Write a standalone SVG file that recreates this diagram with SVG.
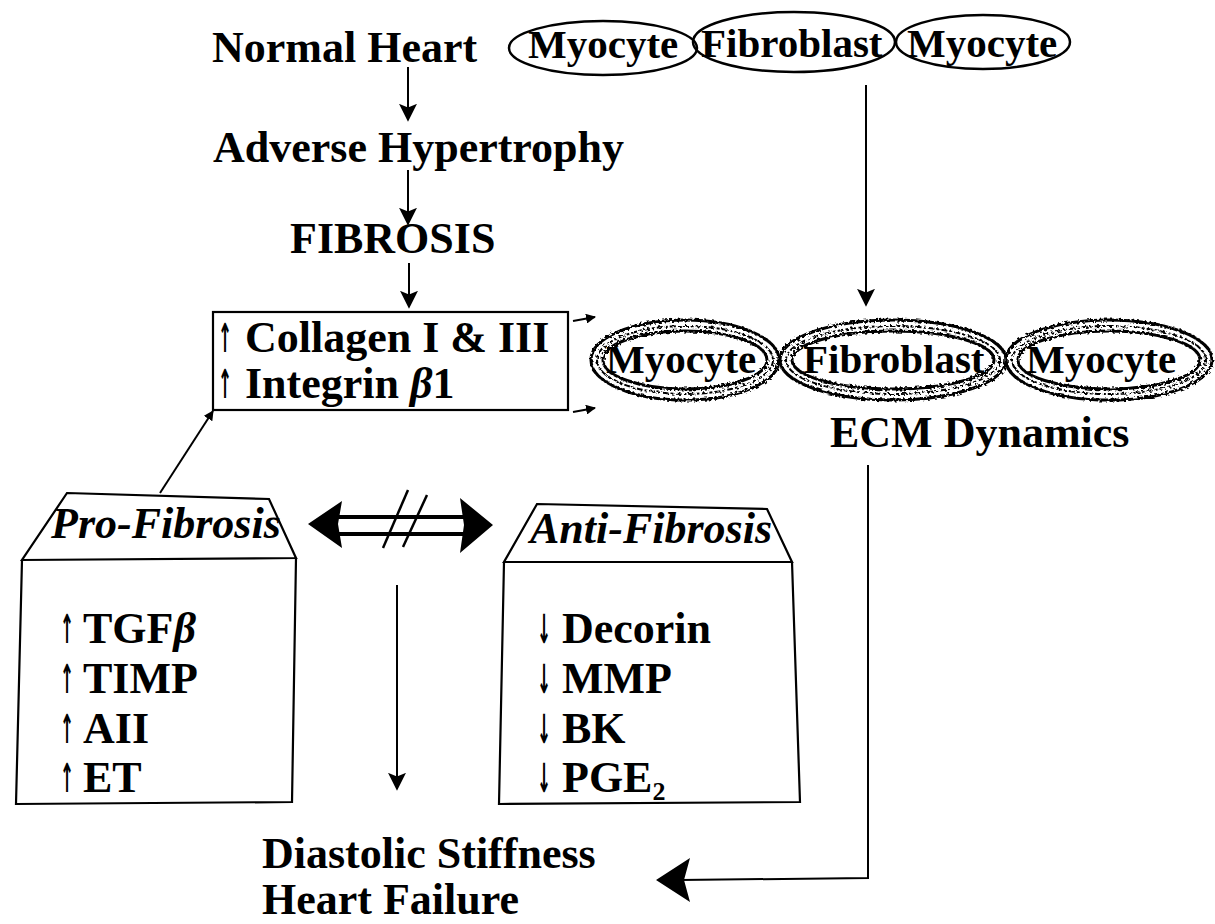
<svg xmlns="http://www.w3.org/2000/svg" width="1215" height="924" viewBox="0 0 1215 924">
<style>
text{font-family:"Liberation Serif","Times New Roman",serif;font-weight:bold;fill:#000}
.t{font-size:44px}
.c{font-size:41px}
.it{font-style:italic;font-size:44px}
.ar{font-family:"DejaVu Sans",sans-serif;font-weight:bold;font-size:40px}
.ln{stroke:#000;stroke-width:2;fill:none}
.bx{stroke:#000;stroke-width:2.2;fill:none}
.cell{stroke:#000;stroke-width:2.5;fill:none}
.w1{stroke:#000;stroke-width:3;fill:none}
.w2{stroke:#000;stroke-width:2;fill:none;stroke-dasharray:6 2 3 2}
</style>
<defs>
<marker id="ah" viewBox="0 0 10 10" refX="9" refY="5" markerWidth="10" markerHeight="10" markerUnits="userSpaceOnUse" orient="auto"><path d="M0,0 L10,5 L0,10 z" fill="#000"/></marker>
<marker id="ahm" viewBox="0 0 10 10" refX="9" refY="5" markerWidth="18" markerHeight="18" markerUnits="userSpaceOnUse" orient="auto"><path d="M0,0 L10,5 L0,10 L2,5 z" fill="#000"/></marker>
<filter id="rough"><feTurbulence type="fractalNoise" baseFrequency="0.4" numOctaves="1" seed="3"/><feDisplacementMap in="SourceGraphic" scale="5"/></filter>
</defs>
<rect width="1215" height="924" fill="#fff"/>

<g id="normal-heart"><text class="t" x="212" y="62">Normal Heart</text></g>
<g id="adverse-hypertrophy"><text class="t" x="213" y="162">Adverse Hypertrophy</text></g>
<g id="fibrosis"><text class="t" x="290" y="253">FIBROSIS</text></g>

<g id="normal-cells">
<ellipse class="cell" cx="603" cy="48" rx="94" ry="27"/>
<ellipse class="cell" cx="794" cy="42" rx="101" ry="30"/>
<ellipse class="cell" cx="983" cy="42" rx="87" ry="27"/>
<text class="c" x="528" y="58">Myocyte</text>
<text class="c" x="701" y="57">Fibroblast</text>
<text class="c" x="907" y="57">Myocyte</text>
</g>

<g id="collagen-box">
<rect class="bx" x="213" y="312" width="355" height="98"/>
<text class="ar" transform="translate(218,352) scale(0.42,1)">↑</text>
<text class="t" x="245" y="352">Collagen I &amp; III</text>
<text class="ar" transform="translate(218,398) scale(0.42,1)">↑</text>
<text class="t" x="245" y="398">Integrin <tspan font-style="italic">β</tspan>1</text>
</g>

<g id="ecm-cells">
<g filter="url(#rough)">
<ellipse class="w1" cx="685" cy="360" rx="94" ry="40"/>
<ellipse class="w2" cx="685" cy="360" rx="88" ry="34"/>
<ellipse class="w1" cx="685" cy="360" rx="82" ry="29"/>
<ellipse class="w1" cx="893" cy="360" rx="113" ry="40"/>
<ellipse class="w2" cx="893" cy="360" rx="107" ry="34"/>
<ellipse class="w1" cx="893" cy="360" rx="101" ry="29"/>
<ellipse class="w1" cx="1109" cy="360" rx="103" ry="40"/>
<ellipse class="w2" cx="1109" cy="360" rx="97" ry="34"/>
<ellipse class="w1" cx="1109" cy="360" rx="91" ry="29"/>
</g>
<text class="c" x="606" y="373">Myocyte</text>
<text class="c" x="803" y="373">Fibroblast</text>
<text class="c" x="1026" y="373">Myocyte</text>
</g>
<g id="ecm-dynamics"><text class="t" x="830" y="447">ECM Dynamics</text></g>

<g id="pro-fibrosis">
<path class="bx" d="M67,493 L269,499 L296,558 L22,560 Z"/>
<text class="it" x="51" y="538">Pro-Fibrosis</text>
<path class="bx" d="M22,560 L16,804 L292,802 L296,558"/>
<text class="ar" transform="translate(60,643) scale(0.42,1)">↑</text>
<text class="t" x="83" y="643">TGF<tspan font-style="italic">β</tspan></text>
<text class="ar" transform="translate(60,693) scale(0.42,1)">↑</text>
<text class="t" x="83" y="693">TIMP</text>
<text class="ar" transform="translate(60,743) scale(0.42,1)">↑</text>
<text class="t" x="83" y="743">AII</text>
<text class="ar" transform="translate(60,792) scale(0.42,1)">↑</text>
<text class="t" x="83" y="792">ET</text>
</g>

<g id="anti-fibrosis">
<path class="bx" d="M537,504 L767,509 L792,562 L504,562 Z"/>
<text class="it" x="530" y="543">Anti-Fibrosis</text>
<path class="bx" d="M504,562 L499,804 L800,802 L792,562"/>
<text class="ar" transform="translate(537,643) scale(0.42,1)">↓</text>
<text class="t" x="562" y="643">Decorin</text>
<text class="ar" transform="translate(537,693) scale(0.42,1)">↓</text>
<text class="t" x="562" y="693">MMP</text>
<text class="ar" transform="translate(537,743) scale(0.42,1)">↓</text>
<text class="t" x="562" y="743">BK</text>
<text class="ar" transform="translate(537,792) scale(0.42,1)">↓</text>
<text class="t" x="562" y="792">PGE<tspan font-size="26" dy="8">2</tspan></text>
</g>

<g id="outcome">
<text class="t" x="262" y="868">Diastolic Stiffness</text>
<text class="t" x="262" y="914">Heart Failure</text>
</g>

<g id="connectors">
<line class="ln" x1="408" y1="67" x2="408" y2="120" marker-end="url(#ahm)"/>
<line class="ln" x1="408" y1="170" x2="408" y2="224" marker-end="url(#ahm)"/>
<line class="ln" x1="409" y1="263" x2="409" y2="307" marker-end="url(#ahm)"/>
<line class="ln" x1="866" y1="85" x2="866" y2="305" marker-end="url(#ahm)"/>
<line class="ln" x1="573" y1="321" x2="595" y2="317" marker-end="url(#ah)"/>
<line class="ln" x1="573" y1="412" x2="595" y2="408" marker-end="url(#ah)"/>
<line class="ln" x1="160" y1="493" x2="213" y2="411" marker-end="url(#ah)"/>
<line class="ln" x1="397" y1="585" x2="397" y2="789" marker-end="url(#ahm)"/>
<path class="ln" d="M868,465 L868,878 L680,880"/>
<path d="M656,880 L690,858 L684,880 L690,902 Z" fill="#000"/>
<g id="double-arrow">
<line stroke="#000" stroke-width="4" x1="335" y1="517" x2="465" y2="517"/>
<line stroke="#000" stroke-width="4" x1="335" y1="534" x2="465" y2="534"/>
<path d="M308,524 L342,501 L338,524 L342,548 Z" fill="#000"/>
<path d="M493,525 L460,498 L464,525 L460,553 Z" fill="#000"/>
<line stroke="#000" stroke-width="2.5" x1="383" y1="548" x2="408" y2="490"/>
<line stroke="#000" stroke-width="2.5" x1="403" y1="547" x2="427" y2="495"/>
</g>
</g>
</svg>
